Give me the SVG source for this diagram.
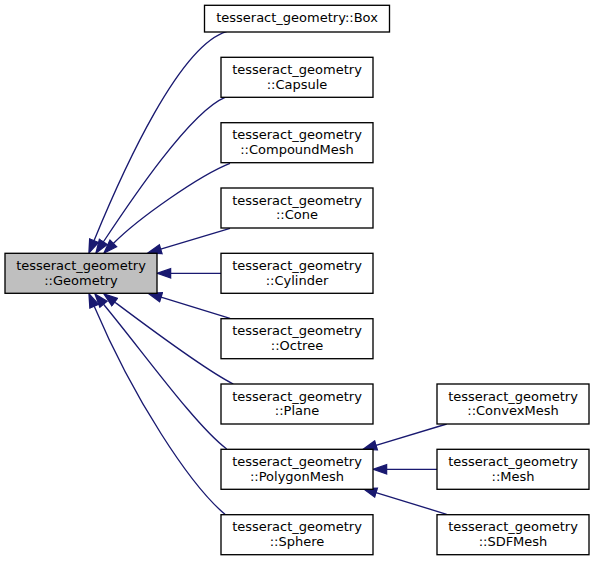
<svg xmlns="http://www.w3.org/2000/svg" width="595" height="561" viewBox="0 0 595 561">
<style>
.n rect{fill:#ffffff;stroke:#000000;stroke-width:1.33}
.n.root rect{fill:#bfbfbf}
.n text{font-family:"DejaVu Sans","Liberation Sans",sans-serif;font-size:13px;fill:#000000;text-anchor:middle}
.e path{fill:none;stroke:#191970;stroke-width:1.33;marker-end:url(#ah)}
</style>
<defs>
<marker id="ah" markerUnits="userSpaceOnUse" viewBox="-1 -6 16 12" markerWidth="16" markerHeight="12" refX="0" refY="0" orient="auto">
<polygon points="0,-4.67 13.3,0 0,4.67" fill="#191970" stroke="#191970" stroke-width="1.33"/>
</marker>
</defs>
<rect width="595" height="561" fill="#ffffff"/>
<g id="connectors" class="e">
<path d="M226.7,31.7 C180,45 124.4,166.7 94,240.7"/>
<path d="M225,97.3 C190,112 130.8,200.5 103.3,242"/>
<path d="M230,163.3 C200,175 137.8,218.6 113.3,243.5"/>
<path d="M230,228.3 L160.7,249.2"/>
<path d="M221,273.3 L170.6,273.3"/>
<path d="M230,318.3 L161,297.2"/>
<path d="M233.3,384 C205,370 142.6,323 114.6,302"/>
<path d="M226.7,449 C195,425 141.9,350.4 103.5,304.2"/>
<path d="M225,514.3 C190,485 133.2,398.2 94.2,306.2"/>
<path d="M446.7,424 L376,445.4"/>
<path d="M437,469.3 L386.6,469.3"/>
<path d="M446.7,514.3 L376,492.6"/>
</g>
<g id="Geometry" class="n root">
<rect x="5" y="253.3" width="152" height="40"/>
<text x="81" y="270">tesseract_geometry</text>
<text x="81" y="284.6">::Geometry</text>
</g>
<g id="Box" class="n">
<rect x="204.5" y="5.3" width="185" height="26.7"/>
<text x="297" y="22">tesseract_geometry::Box</text>
</g>
<g id="Capsule" class="n">
<rect x="221" y="57.3" width="152" height="40"/>
<text x="297" y="74">tesseract_geometry</text>
<text x="297" y="88.6">::Capsule</text>
</g>
<g id="CompoundMesh" class="n">
<rect x="221" y="122.7" width="152" height="40"/>
<text x="297" y="139.4">tesseract_geometry</text>
<text x="297" y="154">::CompoundMesh</text>
</g>
<g id="Cone" class="n">
<rect x="221" y="188" width="152" height="40"/>
<text x="297" y="204.7">tesseract_geometry</text>
<text x="297" y="219.3">::Cone</text>
</g>
<g id="Cylinder" class="n">
<rect x="221" y="253.3" width="152" height="40"/>
<text x="297" y="270">tesseract_geometry</text>
<text x="297" y="284.6">::Cylinder</text>
</g>
<g id="Octree" class="n">
<rect x="221" y="318.7" width="152" height="40"/>
<text x="297" y="335.4">tesseract_geometry</text>
<text x="297" y="350">::Octree</text>
</g>
<g id="Plane" class="n">
<rect x="221" y="384" width="152" height="40"/>
<text x="297" y="400.7">tesseract_geometry</text>
<text x="297" y="415.3">::Plane</text>
</g>
<g id="PolygonMesh" class="n">
<rect x="221" y="449.3" width="152" height="40"/>
<text x="297" y="466">tesseract_geometry</text>
<text x="297" y="480.6">::PolygonMesh</text>
</g>
<g id="Sphere" class="n">
<rect x="221" y="514.7" width="152" height="40"/>
<text x="297" y="531.4">tesseract_geometry</text>
<text x="297" y="546">::Sphere</text>
</g>
<g id="ConvexMesh" class="n">
<rect x="437" y="384" width="152" height="40"/>
<text x="513" y="400.7">tesseract_geometry</text>
<text x="513" y="415.3">::ConvexMesh</text>
</g>
<g id="Mesh" class="n">
<rect x="437" y="449.3" width="152" height="40"/>
<text x="513" y="466">tesseract_geometry</text>
<text x="513" y="480.6">::Mesh</text>
</g>
<g id="SDFMesh" class="n">
<rect x="437" y="514.7" width="152" height="40"/>
<text x="513" y="531.4">tesseract_geometry</text>
<text x="513" y="546">::SDFMesh</text>
</g>
</svg>
